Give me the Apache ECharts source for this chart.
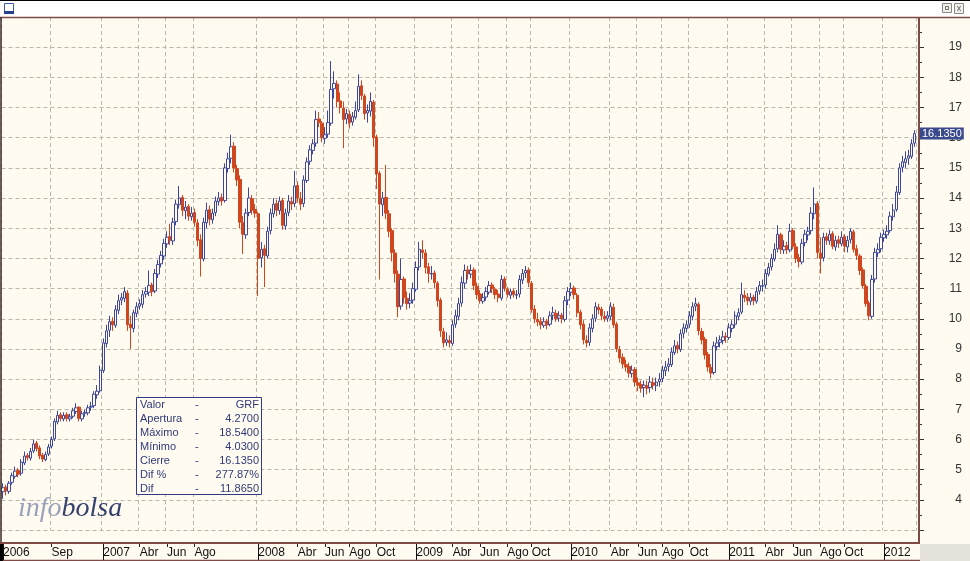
<!DOCTYPE html>
<html><head><meta charset="utf-8">
<script src="https://cdn.jsdelivr.net/npm/echarts@6/dist/echarts.min.js"></script>
<style>html,body{margin:0;padding:0;background:#FFFBF0}#c{width:970px;height:561px}</style>
</head><body><div id="c"></div>
<script>
// Weekly OHLC of GRF
const closeV = [
4.40,4.30,4.55,4.80,4.95,4.85,5.25,5.45,5.40,5.60,5.85,
5.70,5.45,5.35,5.50,5.75,6.00,6.60,6.80,6.70,6.80,
6.70,6.75,6.95,7.05,6.70,6.85,6.90,7.05,7.10,7.50,
7.60,8.30,9.20,9.60,9.90,9.80,10.30,10.60,10.70,10.90,
9.80,9.70,10.20,10.40,10.50,10.80,10.90,11.10,10.90,11.50,
11.80,12.10,12.50,12.70,12.60,13.20,13.80,14.00,13.60,13.70,
13.40,13.50,13.20,12.60,12.00,13.20,13.60,13.30,13.50,13.90,
14.00,13.90,15.00,15.30,15.70,15.00,14.60,13.20,12.80,13.50,
14.00,13.60,13.50,12.00,12.30,12.10,12.90,13.50,13.80,13.60,
13.90,13.10,13.50,13.90,13.80,14.40,14.00,13.80,14.60,15.20,
15.60,15.80,16.60,16.50,16.00,16.10,16.50,17.60,17.80,17.20,
17.00,16.60,16.80,16.50,16.70,16.90,17.70,17.40,16.80,16.90,
17.20,16.00,14.80,13.80,14.00,13.50,12.90,12.20,11.50,10.40,
11.30,10.70,10.50,10.60,11.00,11.70,12.30,12.20,11.70,11.50,
11.50,11.20,10.60,9.60,9.20,9.30,9.20,9.80,10.10,10.50,
11.20,11.60,11.50,11.60,11.10,10.80,10.60,10.70,10.90,11.10,
11.00,10.80,10.70,11.30,11.00,10.80,10.90,10.80,10.80,11.30,
11.50,11.60,11.20,10.30,10.00,9.90,9.80,9.90,9.80,10.10,
10.20,10.00,10.10,10.00,10.60,10.90,11.00,10.80,10.20,9.80,
9.30,9.20,9.70,10.00,10.40,10.30,10.10,10.00,10.10,10.40,
9.80,9.00,8.70,8.50,8.40,8.20,8.30,7.90,7.80,7.70,
7.80,7.70,7.90,7.80,7.90,8.00,8.30,8.40,8.50,8.90,
9.10,9.00,9.50,9.70,9.80,10.10,10.40,10.50,9.60,9.30,
8.80,8.40,8.20,9.10,9.20,9.30,9.40,9.40,9.70,9.80,
10.10,10.20,10.80,10.70,10.60,10.70,10.60,10.90,11.10,11.10,
11.50,11.70,12.00,12.30,12.80,12.30,12.40,12.30,12.90,12.40,
12.00,11.90,12.50,12.80,12.90,13.50,13.80,12.20,12.00,12.70,
12.60,12.80,12.40,12.60,12.50,12.70,12.40,12.60,12.90,12.30,
12.10,11.60,11.10,10.50,10.10,11.30,12.20,12.30,12.70,12.80,
12.90,13.40,13.60,14.20,15.00,15.20,15.30,15.40,15.80,16.135];
const openV = [
4.27,4.42,4.28,4.58,4.78,4.97,4.88,5.22,5.47,5.38,5.62,
5.88,5.72,5.48,5.33,5.52,5.78,6.02,6.58,6.82,6.68,
6.82,6.68,6.77,6.93,7.07,6.68,6.87,6.88,7.07,7.12,
7.48,7.62,8.28,9.18,9.62,9.92,9.78,10.28,10.62,10.68,
10.85,9.82,9.68,10.18,10.42,10.48,10.82,10.88,11.12,10.92,
11.48,11.82,12.08,12.48,12.72,12.58,13.22,13.78,14.02,13.58,
13.72,13.38,13.52,13.18,12.62,11.98,13.18,13.62,13.28,13.52,
13.88,14.02,13.92,14.98,15.32,15.72,14.98,14.62,13.18,12.78,
13.52,13.98,13.62,13.48,12.02,12.32,12.08,12.92,13.48,13.82,
13.58,13.92,13.08,13.52,13.88,13.82,14.42,13.98,13.82,14.58,
15.22,15.58,15.82,16.62,16.48,15.98,16.12,16.48,17.62,17.78,
17.22,16.98,16.62,16.78,16.52,16.68,16.92,17.72,17.38,16.82,
16.88,17.18,16.02,14.82,13.78,14.02,13.48,12.92,12.18,11.48,
10.42,11.32,10.68,10.52,10.62,10.98,11.72,12.28,12.18,11.72,
11.48,11.52,11.18,10.62,9.58,9.22,9.28,9.18,9.82,10.08,
10.52,11.18,11.62,11.48,11.62,11.08,10.82,10.58,10.72,10.88,
11.12,10.98,10.82,10.68,11.32,10.98,10.78,10.92,10.78,10.82,
11.28,11.52,11.62,11.18,10.32,9.98,9.92,9.78,9.92,9.82,
10.12,10.18,10.02,10.12,9.98,10.62,10.88,11.02,10.78,10.22,
9.82,9.28,9.22,9.68,10.02,10.38,10.32,10.08,10.02,10.08,
10.38,9.82,8.98,8.72,8.48,8.42,8.18,8.32,7.88,7.82,
7.72,7.78,7.72,7.88,7.78,7.92,8.02,8.28,8.42,8.48,
8.88,9.12,8.98,9.52,9.68,9.82,10.08,10.42,10.48,9.58,
9.32,8.82,8.38,8.22,9.08,9.22,9.28,9.42,9.38,9.68,
9.82,10.08,10.22,10.78,10.72,10.58,10.72,10.58,10.92,11.08,
11.12,11.48,11.72,11.98,12.32,12.78,12.28,12.42,12.28,12.92,
12.38,12.02,11.88,12.52,12.78,12.92,13.48,13.82,12.18,12.02,
12.72,12.58,12.82,12.38,12.62,12.48,12.72,12.38,12.62,12.88,
12.32,12.08,11.62,11.08,10.52,10.08,11.32,12.18,12.32,12.68,
12.78,12.92,13.38,13.62,14.18,15.02,15.18,15.32,15.38,15.82];
const highV = [
4.55,4.50,4.62,4.90,5.10,5.05,5.35,5.60,5.55,5.72,6.00,
5.95,5.80,5.55,5.60,5.85,6.10,6.70,6.95,6.90,6.90,
6.90,6.85,7.05,7.20,7.10,6.95,7.00,7.15,7.25,7.60,
7.80,8.45,9.35,9.80,10.10,10.05,10.45,10.80,10.85,11.05,
10.95,10.10,10.30,10.55,10.65,10.95,11.05,11.60,11.20,11.65,
11.95,12.25,12.65,12.90,13.15,13.35,13.95,14.40,14.10,13.90,
13.80,13.70,13.65,13.30,12.80,13.35,13.85,13.75,13.65,14.05,
14.20,14.15,15.15,15.50,16.10,15.85,15.10,14.75,13.40,13.65,
14.35,14.10,13.80,13.55,12.55,12.45,13.05,13.65,14.00,13.95,
14.05,14.00,13.65,14.10,14.05,14.90,14.55,14.20,14.75,15.35,
15.75,15.95,16.90,16.85,16.55,16.35,16.90,18.54,18.20,17.90,
17.50,17.20,16.95,16.90,16.85,17.20,18.10,17.90,17.45,17.10,
17.50,17.25,16.10,14.90,14.20,15.10,13.60,13.00,12.30,11.60,
12.00,11.40,10.90,10.85,11.20,11.90,12.55,12.60,12.30,11.85,
11.75,11.60,11.25,10.70,9.70,9.55,9.45,9.95,10.30,10.70,
11.40,11.80,11.75,11.80,11.70,11.20,10.95,10.85,11.05,11.25,
11.20,11.05,10.95,11.45,11.40,11.05,11.00,11.00,10.95,11.45,
11.65,11.75,11.70,11.25,10.45,10.20,10.05,10.05,10.00,10.25,
10.40,10.30,10.25,10.20,10.75,11.05,11.20,11.10,10.85,10.30,
9.95,9.45,9.85,10.15,10.55,10.50,10.40,10.25,10.25,10.55,
10.50,9.90,9.10,8.85,8.65,8.55,8.45,8.40,8.05,7.95,
7.95,7.95,8.10,8.05,8.05,8.20,8.45,8.60,8.70,9.05,
9.30,9.25,9.65,9.85,9.95,10.25,10.55,10.70,10.55,9.70,
9.40,8.90,8.50,9.25,9.40,9.45,9.60,9.55,9.85,9.95,
10.25,10.35,11.20,10.95,10.85,10.85,10.80,11.05,11.25,11.30,
11.65,11.85,12.15,12.50,13.10,12.85,12.60,12.55,13.15,13.00,
12.50,12.15,12.65,12.95,13.05,13.70,14.35,13.90,12.70,12.85,
12.85,12.95,12.90,12.75,12.75,12.90,12.80,12.75,13.00,12.95,
12.45,12.15,11.70,11.15,10.60,11.45,12.35,12.50,12.85,12.95,
13.10,13.55,13.80,14.40,15.15,15.40,15.55,15.60,15.95,16.25];
const lowV = [
4.03,4.15,4.20,4.50,4.70,4.75,4.80,5.15,5.30,5.30,5.55,
5.60,5.35,5.25,5.28,5.45,5.70,5.95,6.50,6.60,6.60,
6.60,6.60,6.70,6.85,6.60,6.60,6.75,6.80,6.95,7.05,
7.35,7.55,8.20,9.05,9.40,9.60,9.70,10.15,10.45,10.55,
9.60,9.00,9.55,10.05,10.30,10.35,10.70,10.75,10.75,10.85,
11.35,11.70,11.95,12.35,12.45,12.45,13.10,13.65,13.40,13.30,
13.25,13.25,13.05,12.40,11.40,11.90,13.00,13.10,13.15,13.40,
13.75,13.75,13.85,14.85,15.15,14.85,14.40,13.00,12.15,12.65,
13.40,13.45,13.35,10.75,11.70,11.05,12.00,12.80,13.35,13.40,
13.45,12.95,12.95,13.40,13.60,13.70,13.85,13.60,13.70,14.50,
15.10,15.45,15.70,16.35,15.85,15.80,16.00,16.40,17.30,17.00,
16.80,15.65,16.45,16.30,16.40,16.60,16.85,17.25,16.60,16.50,
16.70,15.70,14.30,11.30,13.40,13.30,12.70,11.90,11.20,10.05,
10.30,10.50,10.30,10.35,10.50,10.90,11.60,12.00,11.50,11.20,
11.30,11.00,10.40,9.40,9.05,9.10,9.05,9.10,9.70,9.95,
10.40,11.00,11.30,11.35,10.95,10.65,10.50,10.50,10.60,10.80,
10.85,10.65,10.55,10.60,10.90,10.70,10.65,10.70,10.65,10.70,
11.15,11.35,11.05,10.20,9.85,9.75,9.65,9.70,9.65,9.75,
9.95,9.90,9.90,9.85,9.90,10.45,10.75,10.65,10.05,9.65,
9.15,9.05,9.10,9.55,9.90,10.15,9.95,9.90,9.90,9.95,
9.70,8.90,8.55,8.35,8.25,8.05,8.05,7.75,7.60,7.55,
7.40,7.50,7.55,7.65,7.60,7.75,7.90,8.10,8.25,8.40,
8.80,8.85,8.90,9.35,9.55,9.70,9.95,10.25,9.45,9.15,
8.65,8.25,8.03,8.15,8.95,9.05,9.15,9.20,9.30,9.55,
9.70,9.95,10.15,10.55,10.45,10.45,10.45,10.50,10.80,10.90,
11.00,11.40,11.60,11.90,12.20,12.15,12.15,12.15,12.20,12.30,
11.85,11.70,11.80,12.40,12.60,12.80,13.30,12.00,11.50,11.90,
12.45,12.45,12.30,12.25,12.35,12.40,12.20,12.20,12.50,12.20,
11.95,11.45,11.00,10.40,9.95,10.00,11.20,12.05,12.20,12.55,
12.65,12.85,13.25,13.55,14.10,14.85,15.00,15.10,15.30,15.70];

const tickMonths = ['2006-05','2006-09','2007-01','2007-04','2007-06','2007-08','2008-01','2008-04','2008-06','2008-08','2008-10','2009-01','2009-04','2009-06','2009-08','2009-10','2010-01','2010-04','2010-06','2010-08','2010-10','2011-01','2011-04','2011-06','2011-08','2011-10','2012-01'];
const tickLabels = ['2006','Sep','2007','Abr','Jun','Ago','2008','Abr','Jun','Ago','Oct','2009','Abr','Jun','Ago','Oct','2010','Abr','Jun','Ago','Oct','2011','Abr','Jun','Ago','Oct','2012'];
const summaryLabels = ['Valor','Apertura','Máximo','Mínimo','Cierre','Dif %','Dif'];
const summaryValues = ['GRF','4.2700','18.5400','4.0300','16.1350','277.87%','11.8650'];
const lastClose = 16.135;

// category dates (about one per week, starting mid-May 2006)
const startMs = Date.UTC(2006, 4, 17);
const dates = closeV.map((_, i) => new Date(startMs + Math.round(i * 7.093) * 86400000).toISOString().slice(0, 10));

const labelAt = {};
const yearIdx = {};
tickMonths.forEach((m, k) => {
  let idx = k === 0 ? 0 : dates.findIndex(d => d.slice(0, 7) >= m);
  if (idx >= 0) {
    labelAt[idx] = tickLabels[k];
    if (/^\d{4}$/.test(tickLabels[k])) yearIdx[idx] = true;
  }
});
const showIdx = (i) => labelAt[i] !== undefined;
const showYear = (i) => yearIdx[i] === true;

const candles = closeV.map((c, i) => [openV[i], c, lowV[i], highV[i]]);

const BG = '#FFFBF0';
const AX = '#7E4A46';
const GRIDC = '#BDB7AA';
const FONT = 'Liberation Sans, Arial, sans-serif';

const chart = echarts.init(document.getElementById('c'));

const graphics = [
  { type: 'rect', shape: { x: 0, y: 0, width: 970, height: 17 }, style: { fill: '#ffffff' }, z: 1 },
  { type: 'line', shape: { x1: 0, y1: 0.5, x2: 970, y2: 0.5 }, style: { stroke: '#000', lineWidth: 1 }, z: 2 },
  { type: 'rect', shape: { x: 4.5, y: 3.5, width: 9, height: 10 }, style: { fill: '#fff', stroke: '#3C5AA6', lineWidth: 1 }, z: 2 },
  { type: 'rect', shape: { x: 4, y: 11, width: 10, height: 3 }, style: { fill: '#24408E' }, z: 2 },
  { type: 'rect', shape: { x: 942.5, y: 3.5, width: 9, height: 9 }, style: { fill: '#F0F0EA', stroke: '#8A8A84', lineWidth: 1 }, z: 2 },
  { type: 'rect', shape: { x: 945.5, y: 6.5, width: 3, height: 3 }, style: { fill: 'none', stroke: '#707070', lineWidth: 1 }, z: 2 },
  { type: 'rect', shape: { x: 954.5, y: 3.5, width: 9, height: 10 }, style: { fill: '#F0F0EA', stroke: '#8A8A84', lineWidth: 1 }, z: 2 },
  { type: 'text', style: { x: 959, y: 8.5, text: 'x', fill: '#555', font: '9px ' + FONT, align: 'center', verticalAlign: 'middle' }, z: 3 },
  { type: 'line', shape: { x1: 0, y1: 17.5, x2: 970, y2: 17.5 }, style: { stroke: AX, lineWidth: 1.5 }, z: 5 },
  { type: 'line', shape: { x1: 1, y1: 17, x2: 1, y2: 561 }, style: { stroke: '#3A2A28', lineWidth: 1.5 }, z: 5 },
  { type: 'line', shape: { x1: 919, y1: 17, x2: 919, y2: 543 }, style: { stroke: AX, lineWidth: 2 }, z: 5 },
  { type: 'line', shape: { x1: 0, y1: 543, x2: 920, y2: 543 }, style: { stroke: AX, lineWidth: 2 }, z: 5 },
  { type: 'line', shape: { x1: 0, y1: 560.5, x2: 920, y2: 560.5 }, style: { stroke: AX, lineWidth: 1.5 }, z: 5 },
  { type: 'rect', shape: { x: 920, y: 544, width: 50, height: 17 }, style: { fill: '#E4E2DA' }, z: 4 },
  { type: 'rect', shape: { x: 0, y: 544, width: 3, height: 17 }, style: { fill: '#000' }, z: 6 },
  { type: 'text', style: { x: 18, y: 523, text: '{a|info}{b|bolsa}', verticalAlign: 'bottom',
      rich: { a: { fill: '#9BA1B9', font: 'italic 28px "Liberation Serif", "DejaVu Serif", serif' },
              b: { fill: '#36426E', font: 'italic 28px "Liberation Serif", "DejaVu Serif", serif' } } }, z: 3 },
  { type: 'rect', shape: { x: 136.5, y: 397.5, width: 125, height: 97 }, style: { fill: BG, stroke: '#2E3A82', lineWidth: 1 }, z: 10 }
];
summaryLabels.forEach((t, k) => {
  const y = 404.5 + k * 14;
  graphics.push({ type: 'text', style: { x: 140, y, text: t, fill: '#2F3A78', font: '11px ' + FONT, verticalAlign: 'middle' }, z: 11 });
  graphics.push({ type: 'text', style: { x: 195, y, text: '-', fill: '#2F3A78', font: '11px ' + FONT, verticalAlign: 'middle' }, z: 11 });
  graphics.push({ type: 'text', style: { x: 259, y, text: summaryValues[k], fill: '#2F3A78', font: '11px ' + FONT, align: 'right', verticalAlign: 'middle' }, z: 11 });
});

chart.setOption({
  animation: false,
  backgroundColor: BG,
  grid: { left: 1, right: 54, top: 17, bottom: 31, containLabel: false },
  xAxis: [{
    type: 'category', data: dates, boundaryGap: true, position: 'bottom', offset: 13,
    axisLine: { show: false },
    axisTick: { show: true, alignWithLabel: true, interval: showIdx, length: 4, lineStyle: { color: '#222' } },
    axisLabel: { interval: showIdx, formatter: (v, i) => labelAt[i] || '', align: 'left', margin: 4,
      color: '#111', fontSize: 12, fontFamily: FONT, hideOverlap: false },
    splitLine: { show: true, interval: showIdx, lineStyle: { color: GRIDC, type: [4, 3], width: 1 } }
  }, {
    type: 'category', data: dates, boundaryGap: true, position: 'bottom', offset: 13,
    axisLine: { show: false }, axisLabel: { show: false }, splitLine: { show: false },
    axisTick: { show: true, alignWithLabel: true, interval: showYear, length: 18, lineStyle: { color: '#111' } }
  }],
  yAxis: {
    type: 'value', position: 'right', offset: 3, min: 3, max: 20, interval: 1,
    axisLine: { show: false },
    axisTick: { show: true, length: 5, lineStyle: { color: '#333' } },
    minorTick: { show: true, splitNumber: 2, length: 3, lineStyle: { color: '#333' } },
    axisLabel: { align: 'right', margin: 43, color: '#333', fontSize: 12, fontFamily: FONT,
      formatter: v => (v >= 4 && v <= 19) ? String(v) : '' },
    splitLine: { show: true, lineStyle: { color: GRIDC, type: [4, 3], width: 1 } }
  },
  series: [{
    type: 'candlestick', data: candles, xAxisIndex: 0, barWidth: '96%',
    itemStyle: { color: BG, color0: '#D0461F', borderColor: '#3D469A', borderColor0: '#D0461F', borderWidth: 1 },
    markLine: {
      silent: true, symbol: ['none', 'none'], animation: false,
      data: [{ yAxis: lastClose }],
      lineStyle: { color: 'transparent', width: 0 },
      label: { show: true, position: 'end', distance: 4, formatter: lastClose.toFixed(4),
        backgroundColor: '#3B4A8C', color: '#ffffff', padding: [1, 2, 0, 2], fontSize: 11, fontFamily: FONT }
    }
  }],
  graphic: graphics
});
</script></body></html>
